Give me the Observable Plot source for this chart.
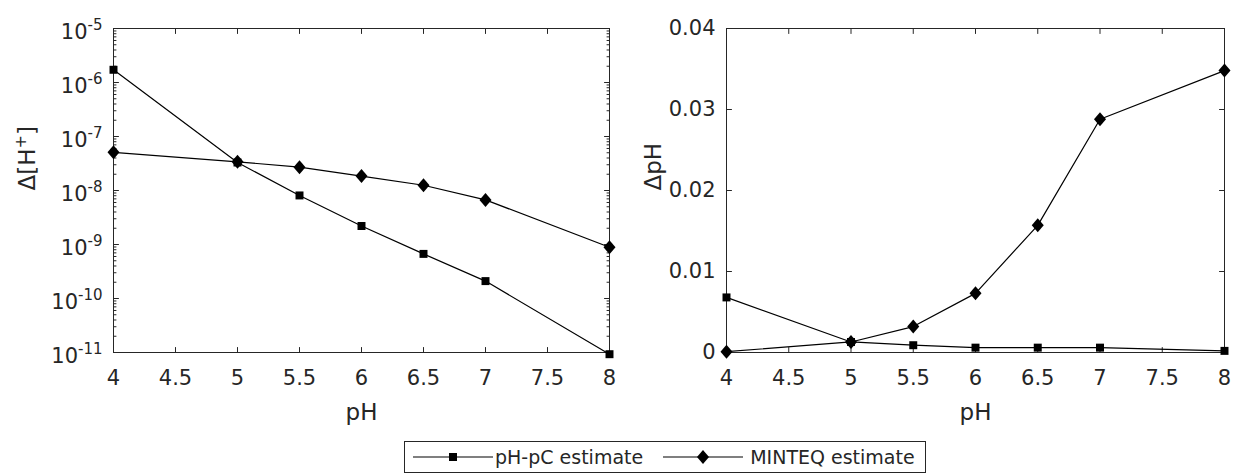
<!DOCTYPE html>
<html><head><meta charset="utf-8">
<script src="https://cdn.jsdelivr.net/npm/d3@7"></script>
<script src="https://cdn.jsdelivr.net/npm/@observablehq/plot@0.6"></script>
<style>
body{margin:0;background:#fff;}
#fig{position:relative;width:1236px;height:475px;font-family:"DejaVu Sans",Verdana,sans-serif;color:#262626;background:#fff;overflow:hidden}
#left{position:absolute;left:0;top:0}
#right{position:absolute;left:618px;top:0}
#legend{position:absolute;left:404px;top:441px;height:30px;border:1px solid #262626;display:flex;align-items:center;font-size:19px;white-space:nowrap;background:#fff;padding-right:10px}
#legend svg{display:block}
</style></head><body>
<div id="fig"><div id="left"></div><div id="right"></div><div id="legend"></div></div>
<script>
// ---- data ----
const pH = [4, 5, 5.5, 6, 6.5, 7, 8];
const seriesNames = ["pH-pC estimate", "MINTEQ estimate"];
const dH_pHpC   = [1.72e-6, 3.3e-8, 8.1e-9, 2.2e-9, 6.7e-10, 2.1e-10, 9.3e-12];
const dH_MINTEQ = [5.1e-8, 3.4e-8, 2.7e-8, 1.85e-8, 1.25e-8, 6.7e-9, 8.9e-10];
const dpH_pHpC   = [0.0068, 0.0013, 0.0009, 0.0006, 0.0006, 0.0006, 0.0002];
const dpH_MINTEQ = [0.0001, 0.0013, 0.0032, 0.0073, 0.0157, 0.0288, 0.0348];
const xTicks = [4, 4.5, 5, 5.5, 6, 6.5, 7, 7.5, 8];
const yTicksLog = [1e-11, 1e-10, 1e-9, 1e-8, 1e-7, 1e-6, 1e-5];
const yTicksLin = [0, 0.01, 0.02, 0.03, 0.04];
const xLabel = "pH";
const yLabelLeft = "Δ[H+]";
const yLabelRight = "ΔpH";

// ---- styling ----
const INK = "#262626";
const FONT = '"DejaVu Sans", Verdana, sans-serif';
const tickShape = {draw(ctx, l) { ctx.moveTo(0, 0); ctx.lineTo(0, -l); }};
const diamond = {draw(ctx, size) {
  const r = Math.sqrt(size / Math.PI), w = r * 0.86;
  ctx.moveTo(0, -r); ctx.lineTo(w, 0); ctx.lineTo(0, r); ctx.lineTo(-w, 0); ctx.closePath();
}};
const symbols = ["square", diamond];
const radii = [4.5, 7];

function longData(a, b) {
  return pH.flatMap((x, i) => [{pH: x, v: a[i], s: seriesNames[0]}, {pH: x, v: b[i], s: seriesNames[1]}]);
}

function inward(values, ch, anchor, rotate, len) {
  return Plot.vector(values, {[ch]: d => d, frameAnchor: anchor, rotate, length: len, anchor: "start",
    shape: tickShape, stroke: INK, strokeWidth: 1});
}

function panel({data, y, yTicks, yMinor, yFormat, yLabel, width, marginLeft, marginRight, labelDx, tickDy}) {
  const marks = [
    Plot.frame({stroke: INK, strokeWidth: 1}),
    Plot.axisX({ticks: xTicks, tickSize: 0, tickPadding: 18, tickFormat: d => String(d), label: null, fill: INK}),
    Plot.axisY({ticks: yTicks, tickSize: 0, tickPadding: 11, tickFormat: yFormat, label: null, fill: INK, dy: tickDy}),
    inward(xTicks, "x", "bottom", 0, 5),
    inward(xTicks, "x", "top", 180, 5),
    inward(yTicks, "y", "left", 90, 5),
    inward(yTicks, "y", "right", -90, 5),
  ];
  if (yMinor) {
    marks.push(inward(yMinor, "y", "left", 90, 2.5), inward(yMinor, "y", "right", -90, 2.5));
  }
  marks.push(
    Plot.text([xLabel], {text: d => d, frameAnchor: "bottom", dy: 60, lineAnchor: "middle", fill: INK, fontSize: 23}),
    Plot.text([yLabel], {text: d => d, frameAnchor: "left", dx: labelDx, rotate: -90, lineAnchor: "middle", fill: INK, fontSize: 23, className: "ylab"}),
    Plot.line(data, {x: "pH", y: "v", z: "s", stroke: "black", strokeWidth: 1.2}),
    ...seriesNames.map((s, i) => Plot.dot(data.filter(d => d.s === s), {x: "pH", y: "v", symbol: symbols[i], r: radii[i], fill: "black", stroke: "none"}))
  );
  return Plot.plot({
    width, height: 430, marginLeft, marginRight, marginTop: 28, marginBottom: 78,
    style: {fontFamily: FONT, fontSize: "21px", color: INK, background: "transparent", overflow: "visible"},
    x: {domain: [4, 8]},
    y,
    marks
  });
}

const logMinor = d3.scaleLog().domain([1e-11, 1e-5]).ticks().filter(v => !yTicksLog.some(t => Math.abs(t - v) / t < 1e-9));

const left = panel({
  data: longData(dH_pHpC, dH_MINTEQ),
  y: {type: "log", domain: [1e-11, 1e-5]},
  yTicks: yTicksLog, yMinor: logMinor,
  yFormat: d => "10^" + Math.round(Math.log10(d)),
  yLabel: yLabelLeft, width: 618, marginLeft: 113, marginRight: 9, labelDx: -86, tickDy: 4
});
const right = panel({
  data: longData(dpH_pHpC, dpH_MINTEQ),
  y: {domain: [0, 0.04]},
  yTicks: yTicksLin, yMinor: null,
  yFormat: d => String(d),
  yLabel: yLabelRight, width: 616, marginLeft: 108, marginRight: 10, labelDx: -73, tickDy: 0
});
document.getElementById("left").appendChild(left);
document.getElementById("right").appendChild(right);

// superscripts: 10^k tick labels and the H+ label
d3.select(left).selectAll('g[aria-label="y-axis tick label"] text').each(function() {
  const t = this.textContent;
  const m = t.match(/^10\^(-?\d+)$/);
  if (!m) return;
  const sel = d3.select(this);
  sel.text(null);
  sel.append("tspan").text("10");
  sel.append("tspan").attr("dy", -9).attr("font-size", 15).text(m[1]);
});
d3.select(left).selectAll(".ylab text").each(function() {
  const t = this.textContent;
  const m = t.match(/^(.*)\+(.*)$/);
  if (!m) return;
  const sel = d3.select(this);
  sel.text(null);
  sel.append("tspan").text(m[1]);
  sel.append("tspan").attr("dy", -9).attr("font-size", 16).text("+");
  sel.append("tspan").attr("dy", 9).text(m[2]);
});

// legend
const legend = d3.select("#legend");
seriesNames.forEach((s, i) => {
  const svg = legend.append("svg").attr("width", 80).attr("height", 30)
    .style("margin-left", i === 0 ? "8px" : "20px");
  svg.append("line").attr("x1", 0).attr("x2", 80).attr("y1", 15).attr("y2", 15).attr("stroke", "black").attr("stroke-width", 1.2);
  const sym = i === 0 ? d3.symbolSquare : diamond;
  svg.append("path").attr("transform", "translate(40,15)")
    .attr("d", d3.symbol(sym, radii[i] * radii[i] * Math.PI)()).attr("fill", "black");
  legend.append("span").style("margin-left", i === 0 ? "2px" : "7px").text(s);
});
</script>
</body></html>
